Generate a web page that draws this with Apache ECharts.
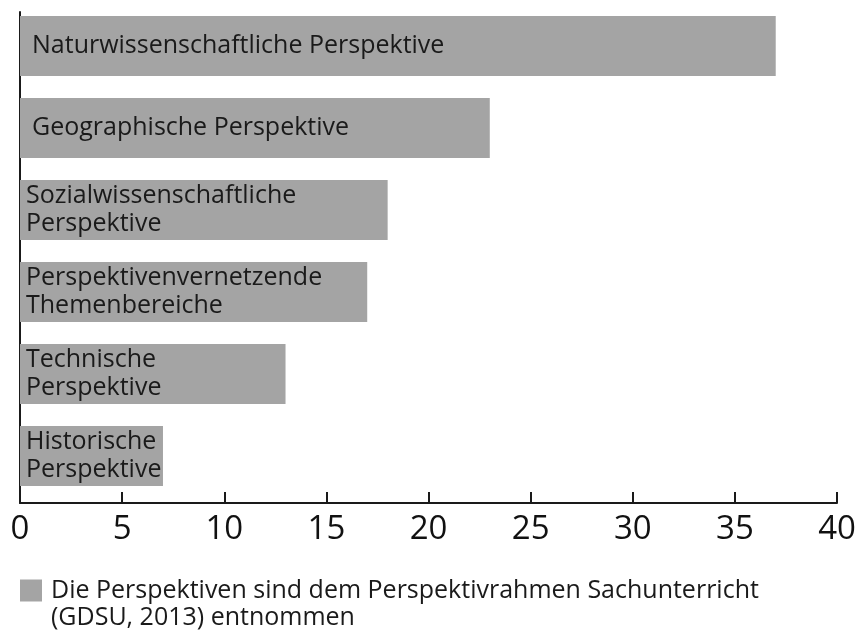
<!DOCTYPE html>
<html>
<head>
<meta charset="utf-8">
<script src="https://cdn.jsdelivr.net/npm/echarts@6/dist/echarts.min.js"></script>
<style>html,body{margin:0;padding:0;background:#fff;}#c{width:859px;height:630px;}</style>
</head>
<body>
<div id="c"></div>
<script>
var categories = [
  'Naturwissenschaftliche Perspektive',
  'Geographische Perspektive',
  'Sozialwissenschaftliche\nPerspektive',
  'Perspektivenvernetzende\nThemenbereiche',
  'Technische\nPerspektive',
  'Historische\nPerspektive'
];
var values = [37, 23, 18, 17, 13, 7];
var xTicks = [0, 5, 10, 15, 20, 25, 30, 35, 40];
var legendLines = [
  'Die Perspektiven sind dem Perspektivrahmen Sachunterricht',
  '(GDSU, 2013) entnommen'
];
var seriesName = legendLines.join(' ');

var FONT = '"Open Sans", sans-serif';
var chart = echarts.init(document.getElementById('c'), null, {renderer: 'canvas'});

var barData = values.map(function (v, i) {
  var multi = categories[i].indexOf('\n') >= 0;
  return {value: v, label: {distance: multi ? 6 : 12}};
});

chart.setOption({
  animation: false,
  title: {
    text: legendLines[1],
    left: 51, top: 605, padding: 0,
    textStyle: {fontSize: 25, fontWeight: 'normal', color: '#1a1a1a', fontFamily: FONT}
  },
  grid: [
    {left: 20, right: 22, top: 5, height: 492},
    {left: 20, right: 22, top: 12, height: 491}
  ],
  xAxis: [
    {gridIndex: 0, type: 'value', min: 0, max: 40, show: false},
    {gridIndex: 1, type: 'value', min: xTicks[0], max: xTicks[xTicks.length - 1], interval: 5,
     axisLine: {show: true, lineStyle: {color: '#1a1a1a', width: 2}},
     axisTick: {show: true, inside: true, length: 11, lineStyle: {color: '#1a1a1a', width: 2}},
     axisLabel: {fontSize: 33, color: '#111', fontFamily: FONT, margin: 10},
     splitLine: {show: false}}
  ],
  yAxis: [
    {gridIndex: 0, type: 'category', data: categories, inverse: true, show: false},
    {gridIndex: 1, type: 'category', data: categories, inverse: true,
     axisLine: {show: true, lineStyle: {color: '#1a1a1a', width: 2}},
     axisTick: {show: false}, axisLabel: {show: false}, splitLine: {show: false}}
  ],
  legend: {
    left: 20, top: 578, padding: 0,
    itemWidth: 22, itemHeight: 22, icon: 'rect',
    data: [seriesName],
    formatter: function () { return legendLines[0]; },
    textStyle: {fontSize: 25, color: '#1a1a1a', fontFamily: FONT, padding: [0, 0, 0, 4]}
  },
  series: [{
    name: seriesName,
    type: 'bar',
    xAxisIndex: 0, yAxisIndex: 0,
    data: barData,
    barWidth: 60,
    itemStyle: {color: '#a4a4a4'},
    label: {
      show: true, position: 'insideLeft',
      formatter: function (p) { return p.name; },
      fontSize: 25, lineHeight: 28, color: '#1a1a1a', fontFamily: FONT
    }
  }]
});
</script>
</body>
</html>
